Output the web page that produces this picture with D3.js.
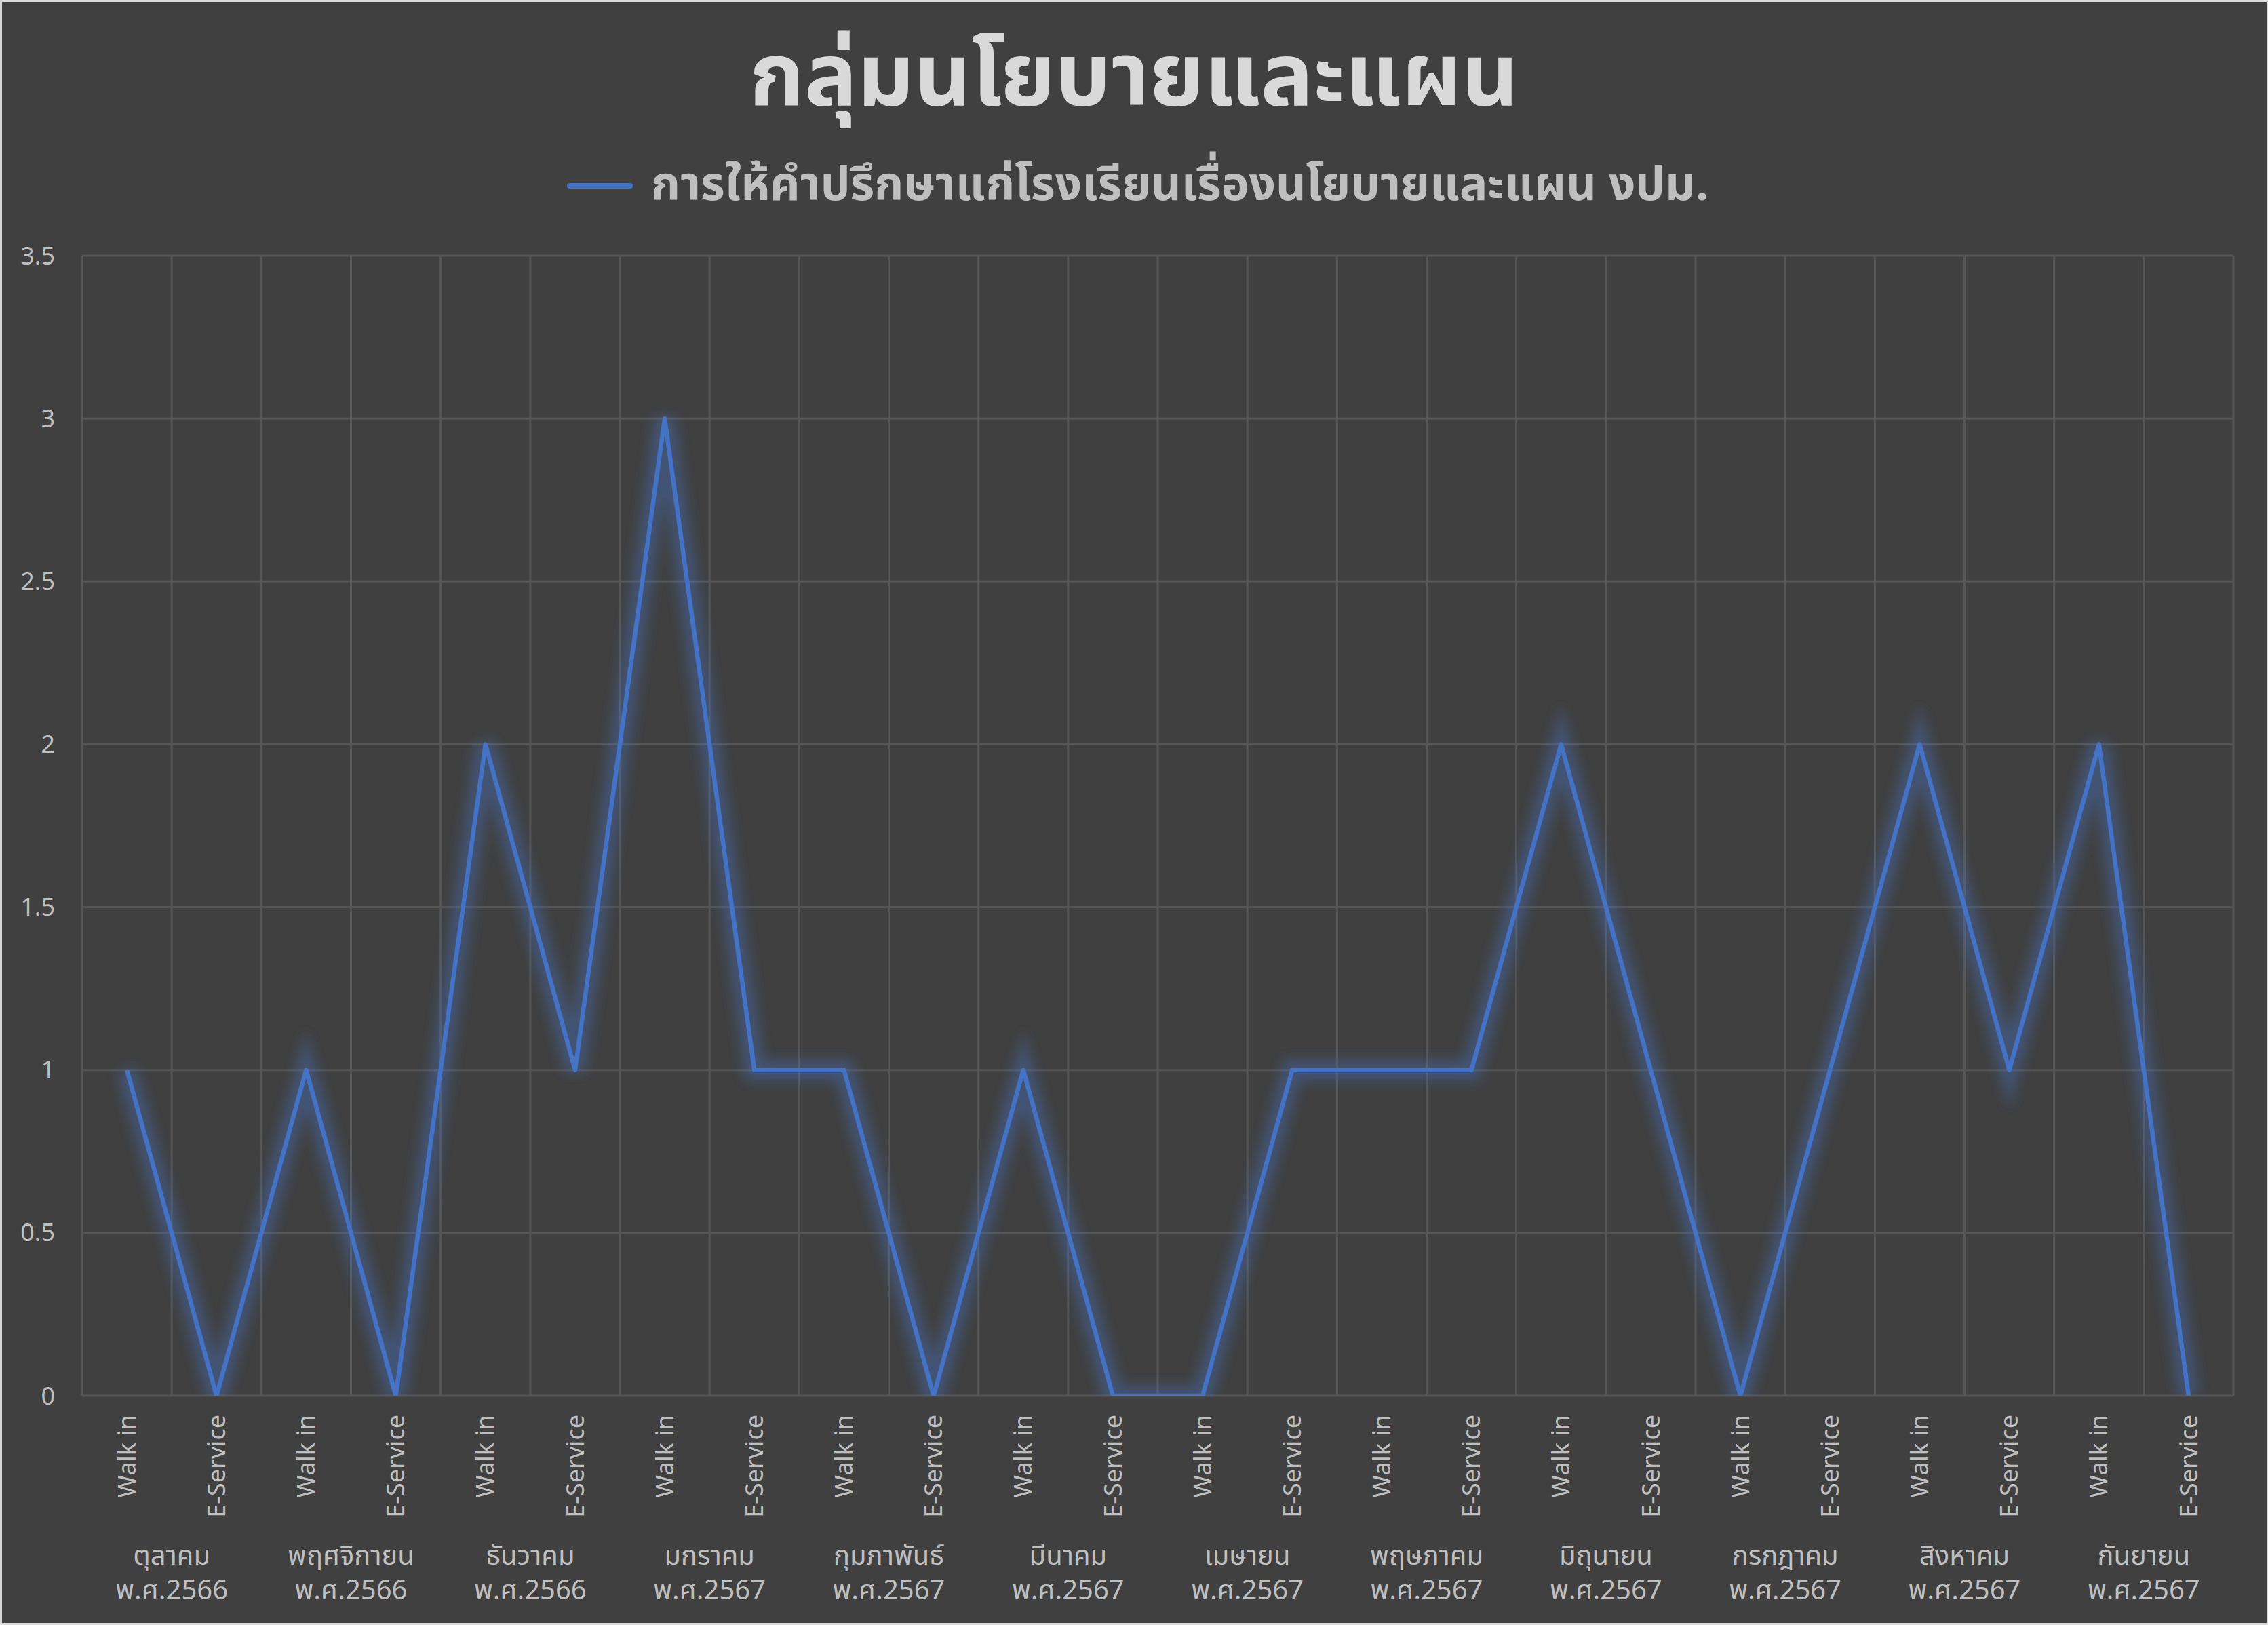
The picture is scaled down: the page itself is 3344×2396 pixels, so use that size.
<!DOCTYPE html>
<html>
<head>
<meta charset="utf-8">
<script src="https://cdn.jsdelivr.net/npm/d3@7"></script>
<style>
  body { margin: 0; background: #d9d9d9; }
  svg { display: block; }
  text { font-family: "Noto Sans Thai", "Leelawadee UI", "Noto Sans", "Open Sans", sans-serif; }
</style>
</head>
<body>
<div id="chart"></div>
<script>
const months = ['ตุลาคม', 'พฤศจิกายน', 'ธันวาคม', 'มกราคม', 'กุมภาพันธ์', 'มีนาคม',
  'เมษายน', 'พฤษภาคม', 'มิถุนายน', 'กรกฎาคม', 'สิงหาคม', 'กันยายน']
const years = ['พ.ศ.2566', 'พ.ศ.2566', 'พ.ศ.2566', 'พ.ศ.2567', 'พ.ศ.2567', 'พ.ศ.2567',
  'พ.ศ.2567', 'พ.ศ.2567', 'พ.ศ.2567', 'พ.ศ.2567', 'พ.ศ.2567', 'พ.ศ.2567']
const channels = ['Walk in', 'E-Service']
const walkIn = [1, 1, 2, 3, 1, 1, 0, 1, 2, 0, 2, 2]
const eService = [0, 0, 1, 1, 0, 0, 1, 1, 1, 1, 1, 0]
const yTicks = [0, 0.5, 1, 1.5, 2, 2.5, 3, 3.5]
const title = 'กลุ่มนโยบายและแผน'
const seriesName = 'การให้คำปรึกษาแก่โรงเรียนเรื่องนโยบายและแผน งปม.'

const width = 3344
const height = 2396
const plot = { left: 121, right: 3293, top: 377, bottom: 2058 }

// flatten month x channel into 24 points
const points = []
months.forEach((m, i) => {
  points.push({ key: i + '-0', channel: channels[0], value: walkIn[i] })
  points.push({ key: i + '-1', channel: channels[1], value: eService[i] })
})

const svg = d3.select('#chart').append('svg')
  .attr('width', width)
  .attr('height', height)

svg.append('rect')
  .attr('x', 3).attr('y', 3)
  .attr('width', width - 5).attr('height', height - 6)
  .attr('fill', '#404040')

const xScale = d3.scaleBand()
  .domain(points.map(d => d.key))
  .range([plot.left, plot.right])
const yScale = d3.scaleLinear()
  .domain([0, 3.5])
  .range([plot.bottom, plot.top])

// gridlines
svg.append('g')
  .selectAll('line')
  .data(yTicks)
  .join('line')
  .attr('x1', plot.left).attr('x2', plot.right)
  .attr('y1', d => yScale(d)).attr('y2', d => yScale(d))
  .attr('stroke', '#565656')
  .attr('stroke-width', 3)

const bounds = points.map(d => xScale(d.key)).concat([plot.right])
svg.append('g')
  .selectAll('line')
  .data(bounds)
  .join('line')
  .attr('x1', d => d).attr('x2', d => d)
  .attr('y1', plot.top).attr('y2', plot.bottom)
  .attr('stroke', '#565656')
  .attr('stroke-width', 3)

// y labels
svg.append('g')
  .selectAll('text')
  .data(yTicks)
  .join('text')
  .attr('x', 81)
  .attr('y', d => yScale(d))
  .attr('dy', '0.35em')
  .attr('text-anchor', 'end')
  .attr('fill', '#bfbfbf')
  .attr('font-size', 36)
  .text(d => d)

// channel labels (rotated)
svg.append('g')
  .selectAll('text')
  .data(points)
  .join('text')
  .attr('transform', d => `translate(${xScale(d.key) + xScale.bandwidth() / 2},2086) rotate(-90)`)
  .attr('dy', '0.35em')
  .attr('text-anchor', 'end')
  .attr('fill', '#bfbfbf')
  .attr('font-size', 36)
  .text(d => d.channel)

// month + year labels, two separate rows
const groupX = (d, i) => xScale(i + '-1')
svg.append('g')
  .selectAll('text')
  .data(months)
  .join('text')
  .attr('x', groupX)
  .attr('y', 2307)
  .attr('text-anchor', 'middle')
  .attr('fill', '#bfbfbf')
  .attr('font-size', 40)
  .text(d => d)
svg.append('g')
  .selectAll('text')
  .data(years)
  .join('text')
  .attr('x', groupX)
  .attr('y', 2358)
  .attr('text-anchor', 'middle')
  .attr('fill', '#bfbfbf')
  .attr('font-size', 40)
  .text(d => d)

// line with glow
const defs = svg.append('defs')
defs.append('clipPath').attr('id', 'plotClip')
  .append('rect')
  .attr('x', plot.left).attr('y', plot.top - 40)
  .attr('width', plot.right - plot.left).attr('height', plot.bottom - plot.top + 40)
defs.append('filter').attr('id', 'glow')
  .attr('x', '-10%').attr('y', '-10%').attr('width', '120%').attr('height', '120%')
  .append('feGaussianBlur').attr('stdDeviation', 9)

const line = d3.line()
  .x(d => xScale(d.key) + xScale.bandwidth() / 2)
  .y(d => yScale(d.value))

const lineG = svg.append('g').attr('clip-path', 'url(#plotClip)')
lineG.append('path')
  .datum(points)
  .attr('d', line)
  .attr('fill', 'none')
  .attr('stroke', '#4472c4')
  .attr('stroke-opacity', 0.4)
  .attr('stroke-width', 30)
  .attr('filter', 'url(#glow)')
lineG.append('path')
  .datum(points)
  .attr('d', line)
  .attr('fill', 'none')
  .attr('stroke', '#4472c4')
  .attr('stroke-width', 6.5)
  .attr('stroke-linejoin', 'round')

// title
svg.append('text')
  .attr('x', width / 2)
  .attr('y', 155)
  .attr('text-anchor', 'middle')
  .attr('fill', '#d9d9d9')
  .attr('font-size', 130)
  .attr('font-weight', 'bold')
  .text(title)

// legend
svg.append('line')
  .attr('x1', 840).attr('x2', 929)
  .attr('y1', 274).attr('y2', 274)
  .attr('stroke', '#4472c4')
  .attr('stroke-width', 8)
  .attr('stroke-linecap', 'round')
svg.append('text')
  .attr('x', 960)
  .attr('y', 295)
  .attr('fill', '#bfbfbf')
  .attr('font-size', 69)
  .attr('font-weight', 'bold')
  .text(seriesName)
</script>
</body>
</html>
